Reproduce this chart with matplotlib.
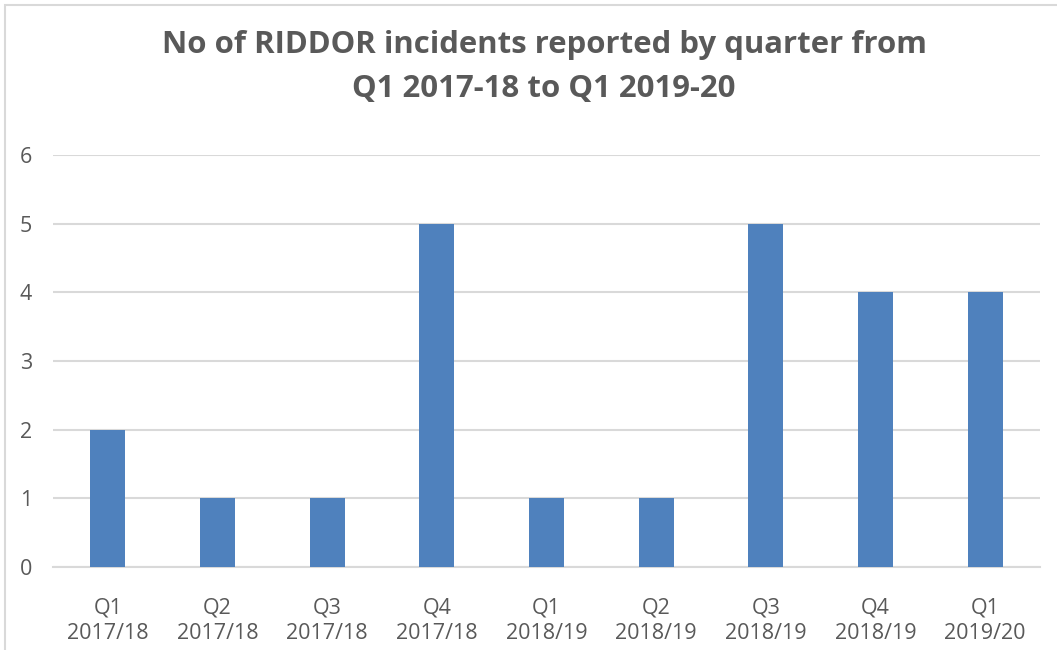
import matplotlib
matplotlib.use("Agg")
import matplotlib.pyplot as plt
from matplotlib.patches import Rectangle

quarters = ["Q1", "Q2", "Q3", "Q4", "Q1", "Q2", "Q3", "Q4", "Q1"]
years = ["2017/18", "2017/18", "2017/18", "2017/18", "2018/19", "2018/19",
         "2018/19", "2018/19", "2019/20"]
incidents = [2, 1, 1, 5, 1, 1, 5, 4, 4]
y_ticks = [0, 1, 2, 3, 4, 5, 6]
title = "No of RIDDOR incidents reported by quarter from\nQ1 2017-18 to Q1 2019-20"

text_color = "#595959"
grid_color = "#D9D9D9"
bar_color = "#4F81BD"
font = "Open Sans"

W, H = 1057, 650
fig = plt.figure(figsize=(W / 100, H / 100), dpi=100)
fig.patch.set_facecolor("white")

# outer chart border (clipped at right/bottom as in reference)
fig.patches.append(Rectangle((5 / W, -0.1), 1.2, 1 - 5 / H + 0.1,
                             transform=fig.transFigure, fill=False,
                             edgecolor=grid_color, linewidth=1.5))

ax = fig.add_axes([53 / W, 1 - 567 / H, (1040 - 53) / W, (567 - 155) / H])
x = list(range(len(incidents)))
labels = [f"{q}\n{y}" for q, y in zip(quarters, years)]
ax.bar(x, incidents, width=0.32, color=bar_color, zorder=3)
ax.set_xlim(-0.5, len(incidents) - 0.5)
ax.set_ylim(0, 6)
ax.set_yticks(y_ticks)
ax.set_yticklabels([str(v) for v in y_ticks], fontsize=15.5, color=text_color,
                   family=font)
ax.set_xticks(x)
ax.set_xticklabels(labels, fontsize=15.5, color=text_color, family=font,
                   linespacing=1.3)
ax.tick_params(axis="both", length=0)
ax.tick_params(axis="x", pad=22)
ax.tick_params(axis="y", pad=24)
for lab in ax.get_yticklabels():
    lab.set_horizontalalignment("left")
ax.grid(axis="y", color=grid_color, linewidth=1.5, zorder=0)
for s in ["top", "right", "left"]:
    ax.spines[s].set_visible(False)
ax.spines["bottom"].set_color(grid_color)
ax.spines["bottom"].set_linewidth(1.5)

fig.text(544 / W, 1 - 67 / H, title, ha="center", va="center",
         fontsize=22.4, fontweight="bold", color=text_color, family=font,
         linespacing=1.65)

fig.savefig("out.png", dpi=100, facecolor="white")
